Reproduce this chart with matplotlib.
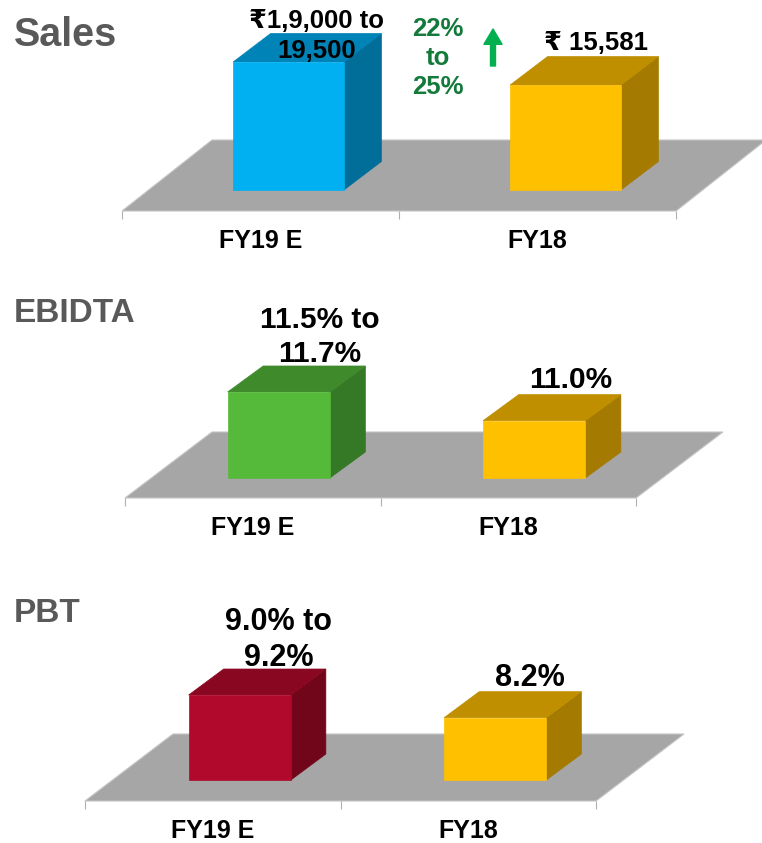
import numpy as np
import matplotlib
matplotlib.use("Agg")
import matplotlib.pyplot as plt
from matplotlib.patches import Polygon, FancyArrowPatch

# ---------------- data ----------------
categories = ["FY19 E", "FY18"]
panel_titles = ["Sales", "EBIDTA", "PBT"]
sales_values = [19000, 15581]
ebidta_values = [11.5, 11.0]
pbt_values = [9.0, 8.2]
sales_labels = ["₹1,9,000 to\n19,500", "₹ 15,581"]
ebidta_labels = ["11.5% to\n11.7%", "11.0%"]
pbt_labels = ["9.0% to\n9.2%", "8.2%"]
axis_base = [0, 10, 6]
axis_ylim = [(-3117, 26570), (9.651, 13.139), (5.259, 12.318)]
growth_label = "22%\nto\n25%"

# ---------------- style ----------------
FONT = ["Liberation Sans", "DejaVu Sans"]
plt.rcParams["font.family"] = FONT
W, H = 762, 843
fig = plt.figure(figsize=(W / 100, H / 100), dpi=100)
fig.patch.set_facecolor("white")

FLOOR = "#A6A6A6"
GOLD = ("#FFC000", "#BF8F00", "#A47A00")
face_colors = [
    [("#00B0F0", "#0083B6", "#006E98"), GOLD],
    [("#55B93A", "#3F8B2C", "#357826"), GOLD],
    [("#B1092B", "#8A0721", "#71051A"), GOLD],
]

# layout in image pixels
layout = [
    dict(xl=122, xr=676, yfront=211, lift=21, shift=28, fd=(90, 71), bd=(37.5, 28.5),
         title_y=35, title_fs=28.5, lab_fs=18.5, offs=[(28, 26), (30, 42)]),
    dict(xl=125, xr=636, yfront=498, lift=20, shift=26, fd=(87, 66), bd=(35.5, 26),
         title_y=314, title_fs=24, lab_fs=21.5, offs=[(41, 55), (36, 41)]),
    dict(xl=85, xr=596, yfront=801, lift=21, shift=27, fd=(88, 67), bd=(35, 26),
         title_y=614, title_fs=24, lab_fs=22, offs=[(39, 55), (35, 40)]),
]
AX_H = 200
value_sets = [sales_values, ebidta_values, pbt_values]
label_sets = [sales_labels, ebidta_labels, pbt_labels]


def px2data(ax, dx, dy):
    p0 = ax.transData.transform((0.0, 0.0))
    inv = ax.transData.inverted()
    d = inv.transform(p0 + np.array([dx, dy])) - inv.transform(p0)
    return d[0], d[1]


BAR_W = 0.4
for p, L in enumerate(layout):
    ax = fig.add_axes([L["xl"] / W, 1 - L["yfront"] / H,
                       (L["xr"] - L["xl"]) / W, AX_H / H])
    ax.set_xlim(-0.5, 1.5)
    ax.set_ylim(*axis_ylim[p])
    ax.set_facecolor("none")
    for s in ax.spines.values():
        s.set_visible(False)
    ax.set_yticks([])
    ax.set_xticks([-0.5, 0.5, 1.5])
    ax.set_xticklabels([])
    ax.tick_params(axis="x", which="major", length=5.5, width=0.8, color="#B0B0B0",
                   direction="out")

    base = axis_base[p]
    vals = np.array(value_sets[p], dtype=float)
    ylo = axis_ylim[p][0]

    # floor
    fdx, fdy = px2data(ax, *L["fd"])
    floor = Polygon([(-0.5, ylo), (1.5, ylo), (1.5 + fdx, ylo + fdy), (-0.5 + fdx, ylo + fdy)],
                    closed=True, facecolor=FLOOR, edgecolor="#C4C4C4", linewidth=0.8,
                    zorder=1, clip_on=False)
    ax.add_patch(floor)

    sx, _ = px2data(ax, L["shift"], 0)
    xpos = np.arange(len(categories)) + sx
    bdx, bdy = px2data(ax, *L["bd"])

    for i, v in enumerate(vals):
        front, top, side = face_colors[p][i]
        xl_, xr_ = xpos[i] - BAR_W / 2, xpos[i] + BAR_W / 2
        ax.add_patch(Polygon([(xr_, base), (xr_, v), (xr_ + bdx, v + bdy), (xr_ + bdx, base + bdy)],
                             closed=True, facecolor=side, edgecolor=side, lw=0.5,
                             zorder=2, clip_on=False))
        ax.add_patch(Polygon([(xl_, v), (xr_, v), (xr_ + bdx, v + bdy), (xl_ + bdx, v + bdy)],
                             closed=True, facecolor=top, edgecolor=top, lw=0.5,
                             zorder=2, clip_on=False))
    ax.bar(xpos, vals - base, bottom=base, width=BAR_W,
           color=[face_colors[p][i][0] for i in range(len(vals))],
           edgecolor=[face_colors[p][i][0] for i in range(len(vals))], linewidth=0.5,
           zorder=3, clip_on=False)

    # value labels
    for i, v in enumerate(vals):
        ox, oy = L["offs"][i]
        ax.annotate(label_sets[p][i], xy=(xpos[i], v), xycoords="data",
                    xytext=(ox * 0.72, oy * 0.72), textcoords="offset points",
                    ha="center", va="center", multialignment="center",
                    fontsize=L["lab_fs"], fontweight="bold", color="black",
                    linespacing=1.3, zorder=5, annotation_clip=False)

    # category labels
    for i, c in enumerate(categories):
        ax.annotate(c, xy=(i, 0), xycoords=("data", "axes fraction"),
                    xytext=(0, -30 * 0.72), textcoords="offset points",
                    ha="center", va="center", fontsize=18, fontweight="bold",
                    color="black", annotation_clip=False)

    # panel title
    fig.text(14 / W, 1 - L["title_y"] / H, panel_titles[p], ha="left", va="center",
             fontsize=L["title_fs"], fontweight="bold", color="#595959")

# growth annotation (Sales)
fig.text(438 / W, 1 - 58 / H, growth_label, ha="center", va="center",
         fontsize=18.5, fontweight="bold", color="#137A3C", linespacing=1.25)
arrow = FancyArrowPatch(posA=(493 / W, 1 - 66 / H), posB=(493 / W, 1 - 29 / H),
                        transform=fig.transFigure,
                        arrowstyle="simple,head_length=11,head_width=13,tail_width=3.6",
                        mutation_scale=1, color="#00B050", shrinkA=0, shrinkB=0)
fig.add_artist(arrow)

fig.savefig("out.png", dpi=100, facecolor="white")
